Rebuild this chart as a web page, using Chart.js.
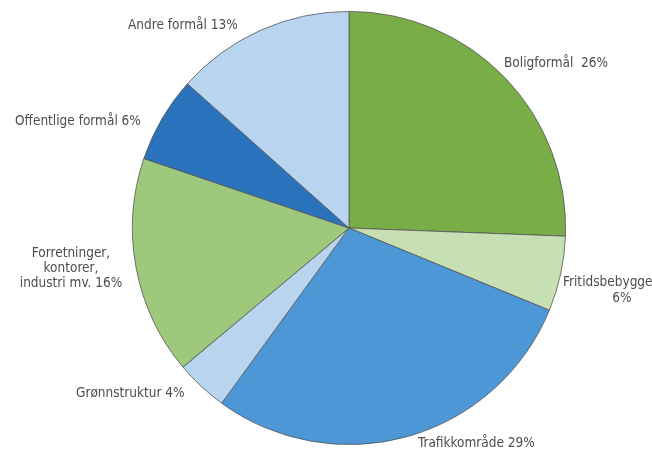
<!DOCTYPE html>
<html>
<head>
<meta charset="utf-8">
<script src="https://cdn.jsdelivr.net/npm/chart.js@4"></script>
<style>
  html, body { margin: 0; padding: 0; background: #fff; }
  #wrap { width: 652px; height: 454px; }
</style>
</head>
<body>
<div id="wrap"><canvas id="pie"></canvas></div>
<script>
/* ===== DATA ===== */
const categories = ["Boligformål", "Fritidsbebyggelse", "Trafikkområde", "Grønnstruktur",
  "Forretninger, kontorer, industri mv.", "Offentlige formål", "Andre formål"];
// slice sizes as drawn in the picture (labels show the rounded shares)
const shares = [25.6, 5.6, 28.8, 3.9, 16.3, 6.4, 13.4];
const sliceColors = ["#78ad48", "#c6e0b4", "#4e97d6", "#b8d4ee", "#9ec97c", "#2a72bb", "#b8d4ee"];

const labelLines = [
  ["Boligformål  26%"],
  ["Fritidsbebyggelse", "6%"],
  ["Trafikkområde 29%"],
  ["Grønnstruktur 4%"],
  ["Forretninger,", "kontorer,", "industri mv. 16%"],
  ["Offentlige formål 6%"],
  ["Andre formål 13%"]
];

/* ===== LABELS ===== */
const labelSpots = [
  { x: 504, y: 63, align: "left" },
  { x: 563, y: 282, align: "left", second: 622, gap: 16 },
  { x: 418, y: 443, align: "left" },
  { x: 76, y: 393, align: "left" },
  { x: 71, y: 253, align: "center", gap: 15 },
  { x: 15, y: 121, align: "left" },
  { x: 128, y: 25, align: "left" }
];

const sliceLabels = {
  id: "sliceLabels",
  afterDraw(chart) {
    const ctx = chart.ctx;
    ctx.save();
    ctx.fillStyle = "#4d4d4d";
    ctx.font = "13.5px 'Liberation Sans Narrow', 'DejaVu Sans Condensed', sans-serif";
    ctx.textBaseline = "middle";
    labelLines.forEach((lines, i) => {
      const s = labelSpots[i];
      lines.forEach((t, j) => {
        const y = s.y + j * (s.gap || 15);
        if (j > 0 && s.second) {
          ctx.textAlign = "center";
          ctx.fillText(t, s.second, y);
        } else {
          ctx.textAlign = s.align;
          ctx.fillText(t, s.x, y);
        }
      });
    });
    ctx.restore();
  }
};

/* ===== CHART ===== */
document.addEventListener("DOMContentLoaded", () => {
  new Chart(document.getElementById("pie"), {
    type: "pie",
    data: {
      labels: categories,
      datasets: [{
        data: shares,
        backgroundColor: sliceColors,
        borderColor: "#555",
        borderWidth: 0.8
      }]
    },
    options: {
      responsive: true,
      maintainAspectRatio: false,
      animation: false,
      layout: { padding: { left: 132, right: 86, top: 11, bottom: 9 } },
      plugins: {
        legend: { display: false },
        tooltip: { enabled: false }
      }
    },
    plugins: [sliceLabels]
  });
});
</script>
</body>
</html>
